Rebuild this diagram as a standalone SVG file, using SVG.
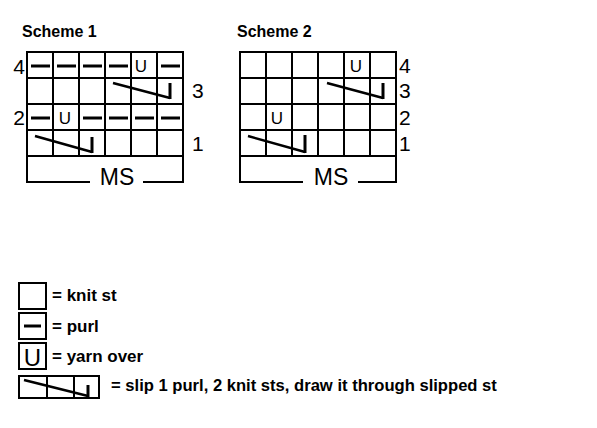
<svg xmlns="http://www.w3.org/2000/svg" width="597" height="428" viewBox="0 0 597 428">
<style>
.g{fill:none;stroke:#000;stroke-width:2}
.p{stroke:#000;stroke-width:3}
.s{fill:none;stroke:#000;stroke-width:2.5}
.v{stroke:#000;stroke-width:3}
.t{font-family:"Liberation Sans",Arial,sans-serif;font-weight:bold;font-size:16px;fill:#000}
.n{font-family:"Liberation Sans",Arial,sans-serif;font-size:21px;fill:#000}
.u{font-family:"Liberation Sans",Arial,sans-serif;font-size:17px;fill:#000;text-anchor:middle}
.ms{font-family:"Liberation Sans",Arial,sans-serif;font-size:23px;fill:#000;text-anchor:middle}
.l{font-family:"Liberation Sans",Arial,sans-serif;font-weight:bold;font-size:17px;fill:#000}
</style>
<rect width="597" height="428" fill="#fff"/>
<g id="scheme1">
<text class="t" x="22" y="37">Scheme 1</text>
<path class="g" d="M27,52H183V156H27Z M27,78H183 M27,104H183 M27,130H183 M53,52V156 M79,52V156 M105,52V156 M131,52V156 M157,52V156 M27,156V182H90 M143,182H183V156"/>
<path class="p" d="M31,66H50 M57,66H76 M83,66H102 M109,66H128 M161,66H180 M31,118H50 M83,118H102 M109,118H128 M135,118H154 M161,118H180"/>
<text class="u" x="141" y="72">U</text>
<text class="u" x="65" y="124">U</text>
<path class="s" d="M113,83L170,98 M35,136L92,152"/>
<path class="v" d="M170,83V99 M92,137V153"/>
<text class="n" x="25" y="74" text-anchor="end">4</text>
<text class="n" x="25" y="125" text-anchor="end">2</text>
<text class="n" x="192" y="98">3</text>
<text class="n" x="192" y="151">1</text>
<text class="ms" x="117" y="185">MS</text>
</g>
<g id="scheme2">
<text class="t" x="237" y="37">Scheme 2</text>
<path class="g" d="M240,52H396V156H240Z M240,78H396 M240,104H396 M240,130H396 M266,52V156 M292,52V156 M318,52V156 M344,52V156 M370,52V156 M240,156V182H303 M358,182H396V156"/>
<text class="u" x="356" y="72">U</text>
<text class="u" x="277" y="124">U</text>
<path class="s" d="M327,83L383,98 M248,136L305,152"/>
<path class="v" d="M383,83V99 M305,135V153"/>
<text class="n" x="399" y="73">4</text>
<text class="n" x="399" y="98">3</text>
<text class="n" x="399" y="125">2</text>
<text class="n" x="399" y="151">1</text>
<text class="ms" x="331" y="185">MS</text>
</g>
<g id="legend-knit">
<rect class="g" x="19" y="283" width="27" height="26"/>
<text class="l" x="52" y="301">= knit st</text>
</g>
<g id="legend-purl">
<rect class="g" x="19" y="313" width="27" height="26"/>
<path class="p" d="M24,326H41"/>
<text class="l" x="52" y="332">= purl</text>
</g>
<g id="legend-yo">
<rect class="g" x="19" y="343" width="27" height="26"/>
<text class="u" x="32.5" y="366" style="font-size:24px">U</text>
<text class="l" x="52" y="362">= yarn over</text>
</g>
<g id="legend-slip">
<path class="g" d="M19,376H99V398H19Z M47,376V398 M74,376V398"/>
<path class="s" d="M24,380L88,396"/>
<path class="v" d="M88,385V397"/>
<text class="l" x="111" y="391" style="font-size:16.6px">= slip 1 purl, 2 knit sts, draw it through slipped st</text>
</g>
<g id="connectors"/>
</svg>
